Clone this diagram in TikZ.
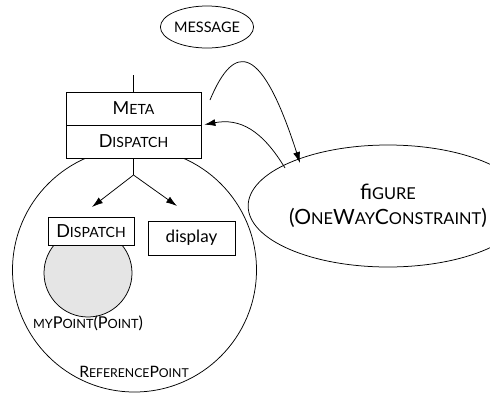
\documentclass[tikz,border=0pt]{standalone}
\usepackage{fontspec}
\setmainfont{Lato}
\usetikzlibrary{shapes.geometric,arrows.meta}
\newcommand\fsc[1]{\scalebox{0.78}{#1}}
\begin{document}
\begin{tikzpicture}[x=1pt,y=-1pt,
  line/.style={draw=black,line width=0.75pt},
  arr/.style={line,-{Latex[length=11pt,width=7pt]}},
  boxnode/.style={draw=black,line width=0.75pt,fill=white,rectangle,inner sep=0pt},
  lbl/.style={inner sep=0pt}]
\useasboundingbox (0,0) rectangle (490,394);
% big circle
\node[draw,line width=0.75pt,circle,minimum size=244pt,inner sep=0pt] (ref) at (134.5,270) {};
\node[lbl,font=\fontsize{15.7}{18}\selectfont] (reflbl) at (134,372) {R\fsc{EFERENCE}P\fsc{OINT}};
% gray circle
\node[draw,line width=0.75pt,circle,fill=black!10,minimum size=88pt,inner sep=0pt] (pt) at (88,273) {};
\node[lbl,font=\fontsize{16.3}{18}\selectfont] (ptlbl) at (88,323) {\fsc{MY}P\fsc{OINT}(P\fsc{OINT})};
% boxes
\node[boxnode,minimum width=135pt,minimum height=33pt,font=\fontsize{18}{20}\selectfont] (meta) at (133.5,108.5) {M\fsc{ETA}};
\node[boxnode,minimum width=135pt,minimum height=33pt,font=\fontsize{18}{20}\selectfont] (disp) at (133.5,141.5) {D\fsc{ISPATCH}};
\node[boxnode,minimum width=86pt,minimum height=28pt,font=\fontsize{18}{20}\selectfont] (idisp) at (91,231) {D\fsc{ISPATCH}};
\node[boxnode,minimum width=87pt,minimum height=34pt,font=\fontsize{17}{20}\selectfont] (dispbox) at (191.5,238) {display};
% message
\node[draw,line width=0.75pt,ellipse,minimum width=70pt,minimum height=42pt,inner sep=0pt,font=\fontsize{14.5}{16}\selectfont] (msg) at (207,27) {MESSAGE};
% figure
\node[draw,line width=0.75pt,ellipse,minimum width=202pt,minimum height=122pt,inner sep=0pt,align=center,font=\fontsize{21}{25}\selectfont] (fig) at (388,206) {fi\fsc{GURE}\\(O\fsc{NE}W\fsc{AY}C\fsc{ONSTRAINT})};
% tree
\coordinate (top) at (133.5,75);
\coordinate (fork) at (133.5,175);
\draw[line] (top) -- (meta.north);
\draw[line] (disp.south) -- (fork);
\draw[arr] (fork) -- (92,207);
\draw[arr] (fork) -- (177,206);
% curved arrows
\coordinate (c1) at (210,100);
\coordinate (e1) at (300,163);
\coordinate (c2) at (285,168);
\draw[arr] (c1) .. controls (235,40) and (262,45) .. (e1);
\draw[arr] (c2) .. controls (262,130) and (240,118) .. ([xshift=3pt]disp.north east);
\end{tikzpicture}
\end{document}
